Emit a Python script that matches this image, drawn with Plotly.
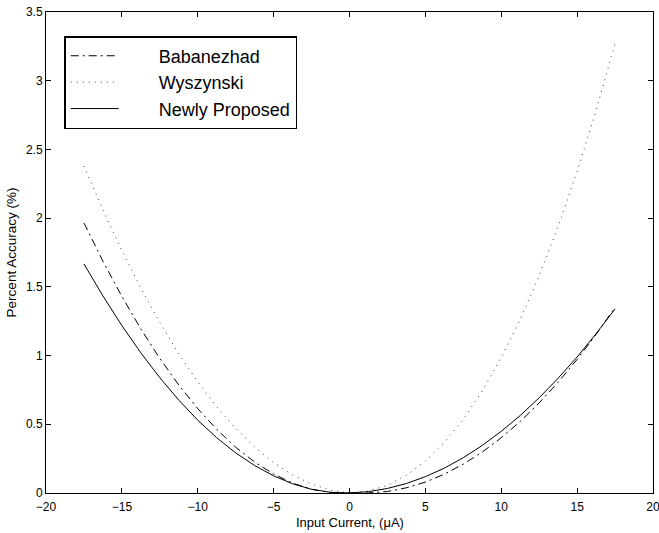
import plotly.graph_objects as go

x_current = [-17.5, -16.25, -15, -13.75, -12.5, -11.25, -10, -8.75, -7.5, -6.25, -5, -3.75,
             -2.5, -1.25, 0, 1.25, 2.5, 3.75, 5, 6.25, 7.5, 8.75, 10, 11.25, 12.5, 13.75,
             15, 16.25, 17.5]

babanezhad = [1.965, 1.687, 1.430, 1.194, 0.979, 0.786, 0.614, 0.463, 0.333, 0.225, 0.138,
              0.072, 0.027, 0.004, 0.0, 0.0003, 0.011, 0.038, 0.079, 0.137, 0.210, 0.298,
              0.402, 0.521, 0.656, 0.806, 0.972, 1.154, 1.350]

wyszynski = [2.379, 2.060, 1.764, 1.491, 1.241, 1.013, 0.809, 0.628, 0.469, 0.334, 0.221,
             0.131, 0.065, 0.020, 0.0, 0.014, 0.056, 0.129, 0.232, 0.368, 0.538, 0.743,
             0.985, 1.264, 1.582, 1.940, 2.340, 2.783, 3.270]

newly_proposed = [1.667, 1.434, 1.218, 1.020, 0.839, 0.676, 0.530, 0.402, 0.292, 0.200, 0.125,
                  0.067, 0.027, 0.005, 0.0004, 0.010, 0.033, 0.069, 0.119, 0.181, 0.257, 0.346,
                  0.449, 0.564, 0.693, 0.835, 0.990, 1.159, 1.340]

x_ticks = [-20, -15, -10, -5, 0, 5, 10, 15, 20]
y_ticks = [0, 0.5, 1, 1.5, 2, 2.5, 3, 3.5]
y_tick_labels = ["0", "0.5", "1", "1.5", "2", "2.5", "3", "3.5"]

FONT = "Liberation Sans, Arial, Helvetica, sans-serif"
PAD = "\u00a0" * 7

fig = go.Figure()
fig.add_trace(go.Scatter(x=x_current, y=babanezhad, mode="lines", name=PAD + "Babanezhad",
                         line=dict(color="black", width=1, dash="8px,4px,2px,4px")))
fig.add_trace(go.Scatter(x=x_current, y=wyszynski, mode="lines", name=PAD + "Wyszynski",
                         line=dict(color="#444444", width=1, dash="1px,5px")))
fig.add_trace(go.Scatter(x=x_current, y=newly_proposed, mode="lines", name=PAD + "Newly Proposed",
                         line=dict(color="black", width=1)))

axis_common = dict(showline=True, linecolor="black", linewidth=1, mirror="ticks",
                   ticks="inside", ticklen=5, tickcolor="black", showgrid=False,
                   zeroline=False, ticklabeloverflow="allow",
                   tickfont=dict(family=FONT, size=12, color="black"))

fig.update_xaxes(range=[-20, 20], tickvals=x_ticks,
                 ticktext=[str(v).replace("-", "\u2212") for v in x_ticks],
                 ticklabelstandoff=3,
                 **axis_common)
fig.update_yaxes(range=[0, 3.5], tickvals=y_ticks, ticktext=y_tick_labels,
                 title=dict(text="Percent Accuracy (%)", font=dict(family=FONT, size=13.5, color="black"),
                            standoff=6),
                 **axis_common)

fig.add_annotation(text="Input Current, (\u03bcA)", xref="paper", yref="paper", x=0.5, y=0,
                   xanchor="center", yanchor="top", yshift=-20, showarrow=False,
                   font=dict(family=FONT, size=13, color="black"))

fig.update_layout(
    width=659, height=533,
    margin=dict(l=46, r=6, t=12, b=40, autoexpand=False),
    paper_bgcolor="white", plot_bgcolor="white",
    font=dict(family=FONT, color="black"),
    showlegend=True,
    legend=dict(x=0.03, y=0.95, xanchor="left", yanchor="top",
                bgcolor="white", bordercolor="black", borderwidth=1.5,
                font=dict(family=FONT, size=18, color="black"),
                tracegroupgap=0, itemwidth=48),
)

# remove the browser's default 8px page margin so the figure sits at the window's corner
fig.write_html("out.html",
               config={"displayModeBar": False},
               post_script="document.body.style.margin='0px';document.body.style.overflow='hidden';")
